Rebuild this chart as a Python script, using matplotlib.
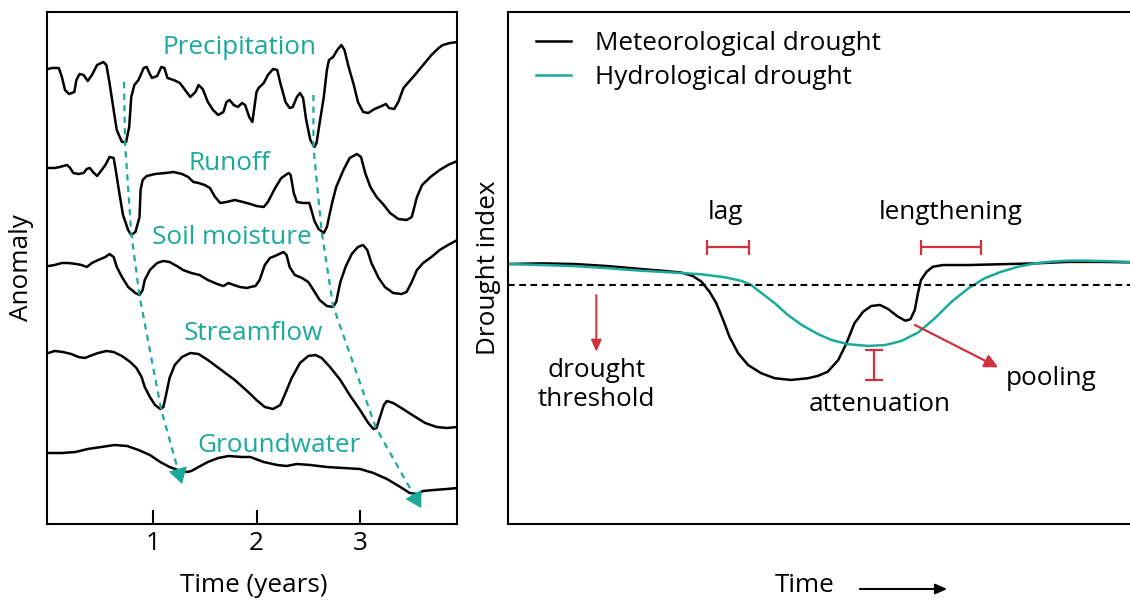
import matplotlib
matplotlib.use("Agg")
import matplotlib.pyplot as plt

plt.rcParams['font.family'] = ['Open Sans', 'DejaVu Sans']

TEAL = '#1ba99c'
RED = '#d0313f'
FS = 18.8

# ---------------- left panel: anomalies through the water cycle ----------------
# (time in years, anomaly in arbitrary stacked units)
precipitation = [
    (-0.01, 45.5), (0.02, 45.6), (0.09, 45.6), (0.12, 44.7), (0.15, 43.4), (0.19, 43.0),
    (0.24, 43.2), (0.26, 44.4), (0.29, 45.0), (0.33, 44.9), (0.37, 44.3), (0.41, 44.9),
    (0.46, 45.9), (0.52, 46.2), (0.55, 45.9), (0.58, 44.1), (0.62, 41.4), (0.65, 39.4),
    (0.70, 38.2), (0.74, 38.2), (0.77, 39.7), (0.79, 42.7), (0.82, 43.9), (0.86, 44.4),
    (0.91, 45.6), (0.94, 45.7), (0.96, 45.2), (0.99, 44.6), (1.04, 44.8), (1.08, 45.7),
    (1.11, 45.6), (1.14, 44.6), (1.20, 44.4), (1.26, 44.1), (1.31, 43.4), (1.36, 42.7),
    (1.41, 43.2), (1.44, 43.9), (1.48, 43.5), (1.53, 42.2), (1.58, 41.4), (1.63, 40.9),
    (1.68, 41.2), (1.71, 42.2), (1.74, 42.4), (1.78, 41.9), (1.82, 41.7), (1.86, 42.1),
    (1.89, 41.9), (1.93, 40.7), (1.96, 40.2), (2.00, 43.2), (2.02, 43.6), (2.07, 44.1),
    (2.11, 44.9), (2.16, 45.5), (2.20, 45.4), (2.23, 44.1), (2.28, 42.2), (2.32, 41.6),
    (2.35, 41.7), (2.39, 42.7), (2.42, 43.1), (2.45, 42.6), (2.48, 40.4), (2.52, 38.4),
    (2.56, 37.7), (2.58, 38.1), (2.61, 40.1), (2.65, 42.7), (2.68, 45.4), (2.70, 46.4),
    (2.74, 46.7), (2.78, 47.4), (2.82, 47.9), (2.85, 47.4), (2.89, 45.7), (2.94, 43.9),
    (2.98, 42.2), (3.03, 41.2), (3.08, 41.1), (3.14, 41.5), (3.21, 41.8), (3.25, 42.0),
    (3.28, 41.6), (3.33, 41.5), (3.37, 42.2), (3.42, 43.6), (3.47, 44.2), (3.53, 44.9),
    (3.61, 45.9), (3.69, 46.9), (3.76, 47.6), (3.80, 47.9), (3.87, 48.1), (3.94, 48.2),
]

runoff = [
    (-0.01, 35.6), (0.05, 35.6), (0.10, 35.7), (0.17, 35.9), (0.20, 35.6), (0.23, 35.1),
    (0.28, 35.0), (0.33, 35.1), (0.36, 35.5), (0.39, 35.6), (0.42, 35.2), (0.46, 34.8),
    (0.49, 35.2), (0.54, 35.9), (0.58, 36.7), (0.62, 36.6), (0.64, 35.4), (0.67, 33.4),
    (0.71, 30.9), (0.76, 29.4), (0.79, 28.9), (0.83, 29.2), (0.87, 30.7), (0.88, 33.4),
    (0.90, 34.4), (0.94, 34.8), (1.02, 35.0), (1.12, 35.1), (1.20, 35.2), (1.28, 35.0),
    (1.34, 34.7), (1.39, 34.2), (1.44, 34.1), (1.50, 33.9), (1.55, 33.6), (1.60, 32.7),
    (1.65, 32.1), (1.71, 32.2), (1.79, 32.4), (1.87, 32.2), (1.94, 32.0), (2.00, 31.8),
    (2.07, 31.7), (2.11, 32.2), (2.18, 33.6), (2.24, 34.6), (2.31, 35.1), (2.33, 34.9),
    (2.36, 33.1), (2.39, 32.2), (2.45, 32.1), (2.51, 32.1), (2.53, 31.4), (2.56, 30.3),
    (2.60, 29.5), (2.65, 29.1), (2.68, 29.7), (2.73, 32.1), (2.77, 33.7), (2.84, 35.4),
    (2.90, 36.6), (2.97, 37.0), (3.01, 36.7), (3.05, 35.1), (3.10, 33.7), (3.16, 32.7),
    (3.23, 31.9), (3.29, 31.1), (3.37, 30.5), (3.45, 30.4), (3.50, 30.7), (3.55, 32.7),
    (3.60, 33.9), (3.68, 34.7), (3.77, 35.4), (3.85, 35.9), (3.94, 36.3),
]

soil_moisture = [
    (-0.01, 25.8), (0.05, 25.9), (0.12, 26.1), (0.18, 26.1), (0.26, 26.0), (0.31, 25.9),
    (0.36, 25.7), (0.41, 26.1), (0.47, 26.4), (0.54, 26.7), (0.58, 27.0), (0.62, 26.7),
    (0.65, 25.7), (0.70, 24.7), (0.76, 23.7), (0.83, 23.1), (0.87, 22.9), (0.90, 23.4),
    (0.92, 24.4), (0.97, 25.4), (1.04, 26.1), (1.10, 26.3), (1.16, 26.2), (1.23, 25.8),
    (1.29, 25.4), (1.37, 25.1), (1.45, 24.9), (1.53, 24.4), (1.62, 24.0), (1.68, 23.8),
    (1.73, 24.1), (1.78, 23.9), (1.84, 23.7), (1.91, 23.6), (1.94, 23.7), (1.99, 23.8),
    (2.03, 24.4), (2.08, 25.9), (2.13, 26.6), (2.20, 26.9), (2.26, 27.2), (2.29, 26.9),
    (2.32, 25.7), (2.37, 24.9), (2.44, 24.6), (2.50, 24.2), (2.55, 23.4), (2.61, 22.4),
    (2.68, 21.8), (2.74, 21.7), (2.77, 22.2), (2.81, 24.2), (2.86, 25.7), (2.92, 27.0),
    (2.98, 27.7), (3.03, 27.9), (3.07, 27.4), (3.11, 26.1), (3.18, 24.6), (3.24, 23.7),
    (3.32, 23.1), (3.40, 23.0), (3.45, 23.2), (3.50, 24.2), (3.55, 25.4), (3.61, 26.1),
    (3.69, 26.7), (3.77, 27.4), (3.85, 27.9), (3.94, 28.4),
]

streamflow = [
    (-0.01, 17.1), (0.05, 17.3), (0.13, 17.2), (0.21, 17.0), (0.28, 16.7), (0.34, 16.6),
    (0.39, 16.8), (0.47, 17.1), (0.55, 17.3), (0.62, 17.2), (0.70, 16.8), (0.78, 16.2),
    (0.84, 15.6), (0.89, 14.7), (0.92, 13.7), (0.97, 12.7), (1.02, 11.9), (1.07, 11.5),
    (1.10, 11.7), (1.13, 13.1), (1.16, 14.6), (1.21, 15.9), (1.28, 16.7), (1.36, 17.1),
    (1.44, 17.0), (1.53, 16.4), (1.66, 15.4), (1.79, 14.4), (1.92, 13.2), (2.00, 12.4),
    (2.08, 11.7), (2.16, 11.5), (2.23, 11.9), (2.28, 13.1), (2.34, 14.6), (2.42, 16.1),
    (2.50, 16.8), (2.57, 16.9), (2.63, 16.6), (2.71, 15.7), (2.81, 14.4), (2.90, 12.9),
    (3.00, 11.4), (3.08, 10.1), (3.13, 9.5), (3.16, 9.6), (3.19, 10.6), (3.23, 11.9),
    (3.26, 12.3), (3.32, 12.1), (3.40, 11.6), (3.52, 10.8), (3.63, 10.1), (3.74, 9.7),
    (3.84, 9.6), (3.94, 9.7),
]

groundwater = [
    (-0.01, 7.1), (0.12, 7.1), (0.25, 7.2), (0.37, 7.5), (0.50, 7.7), (0.63, 7.9),
    (0.75, 7.8), (0.86, 7.4), (0.97, 6.9), (1.07, 6.2), (1.16, 5.7), (1.24, 5.4),
    (1.33, 5.2), (1.37, 5.3), (1.44, 5.7), (1.53, 6.2), (1.63, 6.6), (1.73, 6.8),
    (1.86, 6.7), (1.94, 6.7), (2.07, 6.2), (2.20, 5.9), (2.29, 5.8), (2.39, 6.0),
    (2.52, 5.9), (2.68, 5.7), (2.84, 5.6), (3.00, 5.5), (3.13, 5.1), (3.26, 4.5),
    (3.39, 3.7), (3.48, 3.1), (3.55, 3.0), (3.61, 3.3), (3.71, 3.4), (3.84, 3.5),
    (3.94, 3.6),
]

series_left = [precipitation, runoff, soil_moisture, streamflow, groundwater]
series_names = ['Precipitation', 'Runoff', 'Soil moisture', 'Streamflow', 'Groundwater']
name_positions = [(1.84, 47.6), (1.74, 36.1), (1.76, 28.6), (1.97, 19.1), (2.22, 7.9)]

# propagation paths of the two dry spells through the stores
propagation_1 = [(0.72, 44.2), (0.73, 38.1), (0.79, 29.1), (0.87, 22.8), (1.08, 11.4), (1.28, 4.0)]
propagation_2 = [(2.55, 42.9), (2.55, 37.7), (2.63, 29.2), (2.74, 21.8), (3.15, 9.7), (3.59, 1.6)]

year_ticks = [1, 2, 3]

# ---------------- right panel: drought index ----------------
meteorological = [
    (0.00, 0.00), (0.54, 0.03), (1.07, 0.00), (1.61, -0.10), (2.14, -0.24), (2.52, -0.33),
    (2.79, -0.41), (2.97, -0.57), (3.11, -0.84), (3.24, -1.32), (3.35, -1.87), (3.46, -2.67),
    (3.56, -3.46), (3.70, -4.25), (3.86, -4.81), (4.07, -5.20), (4.29, -5.44), (4.55, -5.52),
    (4.82, -5.44), (4.98, -5.33), (5.14, -5.13), (5.31, -4.57), (5.44, -3.78), (5.57, -2.82),
    (5.71, -2.27), (5.84, -2.00), (5.98, -1.95), (6.11, -2.14), (6.27, -2.51), (6.39, -2.70),
    (6.47, -2.63), (6.54, -2.19), (6.59, -1.40), (6.64, -0.76), (6.73, -0.37), (6.83, -0.13),
    (6.99, -0.05), (7.40, -0.05), (7.93, -0.01), (8.47, 0.03), (9.00, 0.10), (9.54, 0.10),
    (10.0, 0.08),
]

hydrological = [
    (0.00, 0.00), (0.54, -0.05), (1.07, -0.10), (1.61, -0.20), (2.14, -0.32), (2.68, -0.41),
    (3.11, -0.49), (3.48, -0.63), (3.75, -0.80), (3.91, -1.00), (4.07, -1.37), (4.29, -1.87),
    (4.50, -2.43), (4.72, -2.90), (4.98, -3.33), (5.20, -3.62), (5.47, -3.82), (5.79, -3.90),
    (6.06, -3.86), (6.32, -3.67), (6.59, -3.27), (6.86, -2.59), (7.13, -1.80), (7.40, -1.16),
    (7.66, -0.68), (7.93, -0.37), (8.20, -0.13), (8.47, 0.03), (8.73, 0.11), (9.00, 0.16),
    (9.27, 0.16), (9.59, 0.14), (10.0, 0.10),
]

threshold = -1.0
lag_span = (3.20, 3.87, 0.80)
lengthening_span = (6.64, 7.61, 0.80)
attenuation_span = (5.88, -5.52, -4.10)
pooling_arrow = ((6.54, -2.90), (7.88, -4.92))
threshold_arrow = ((1.42, -1.48), (1.42, -4.18))

# ---------------- figure ----------------
fig = plt.figure(figsize=(11.3, 6.01), dpi=100)
W, H = 1130, 601


def frac_box(x0, y0, x1, y1):
    return [x0 / W, 1 - y1 / H, (x1 - x0) / W, (y1 - y0) / H]


ax1 = fig.add_axes(frac_box(47, 12, 457, 524))
ax2 = fig.add_axes(frac_box(508, 12, 1130, 524))

for ax in (ax1, ax2):
    for sp in ax.spines.values():
        sp.set_linewidth(1.5)
        sp.set_color('black')

# left panel curves
for data in series_left:
    t, v = zip(*data)
    ax1.plot(t, v, color='black', lw=1.8, solid_joinstyle='round', solid_capstyle='round')

for name, (x, y) in zip(series_names, name_positions):
    ax1.text(x, y, name, color=TEAL, fontsize=FS, ha='center', va='center')

for path in (propagation_1, propagation_2):
    t, v = zip(*path)
    (x_prev, y_prev), (x_tip, y_tip) = path[-2], path[-1]
    frac = 0.82
    xb = x_prev + frac * (x_tip - x_prev)
    yb = y_prev + frac * (y_tip - y_prev)
    ax1.plot(list(t[:-1]) + [xb], list(v[:-1]) + [yb], color=TEAL, lw=1.6,
             ls=(0, (2.8, 2.4)))
    ax1.annotate('', xy=(x_tip, y_tip), xytext=(xb, yb),
                 arrowprops=dict(arrowstyle='-|>,head_length=0.45,head_width=0.27',
                                 color=TEAL, lw=0, mutation_scale=25,
                                 shrinkA=0, shrinkB=0))

ax1.set_xlim(-0.024, 3.937)
ax1.set_ylim(0, 51.2)
ax1.set_xticks(year_ticks)
ax1.set_xticklabels([str(v) for v in year_ticks])
ax1.set_yticks([])
ax1.tick_params(axis='x', direction='in', length=10, width=1.5, pad=5, labelsize=FS)

# right panel curves
t, v = zip(*meteorological)
met_line, = ax2.plot(t, v, color='black', lw=1.8, label='Meteorological drought')
t, v = zip(*hydrological)
hyd_line, = ax2.plot(t, v, color=TEAL, lw=1.8, label='Hydrological drought')
ax2.axhline(threshold, color='black', lw=1.5, ls=(0, (3.2, 2.2)))

ax2.set_xlim(0, 10)
ax2.set_ylim(-12.38, 12.0)
ax2.set_xticks([])
ax2.set_yticks([])
ax2.spines['right'].set_visible(False)

ax2.legend(handles=[met_line, hyd_line], loc='upper left', bbox_to_anchor=(0.045, 0.962),
           frameon=False, fontsize=FS, handlelength=1.35, handletextpad=0.9,
           labelspacing=0.34, borderpad=0, borderaxespad=0)

# red markers of the drought characteristics
for x0, x1, y in (lag_span, lengthening_span):
    ax2.errorbar((x0 + x1) / 2, y, xerr=(x1 - x0) / 2, color=RED, lw=1.6,
                 capsize=5.4, capthick=1.6, fmt='none')
xa, ya0, ya1 = attenuation_span
ax2.errorbar(xa, (ya0 + ya1) / 2, yerr=(ya1 - ya0) / 2, color=RED, lw=1.6,
             capsize=6.5, capthick=1.6, fmt='none')

(ps, pe) = pooling_arrow
ax2.annotate('', xy=pe, xytext=ps,
             arrowprops=dict(arrowstyle='-|>,head_length=0.5,head_width=0.25', color=RED,
                             lw=1.6, mutation_scale=16, shrinkA=0, shrinkB=0))
(ts, te) = threshold_arrow
ax2.annotate('', xy=te, xytext=ts,
             arrowprops=dict(arrowstyle='-|>,head_length=0.5,head_width=0.22', color=RED,
                             lw=1.4, mutation_scale=14, shrinkA=0, shrinkB=0))

ax2.text(3.50, 2.43, 'lag', fontsize=FS, ha='center', va='center')
ax2.text(7.12, 2.43, 'lengthening', fontsize=FS, ha='center', va='center')
ax2.text(1.42, -5.75, 'drought\nthreshold', fontsize=FS, ha='center', va='center',
         linespacing=1.2)
ax2.text(5.98, -6.71, 'attenuation', fontsize=FS, ha='center', va='center')
ax2.text(8.73, -5.43, 'pooling', fontsize=FS, ha='center', va='center')

# axis titles
fig.text(22 / W, 1 - 268 / H, 'Anomaly', rotation=90, fontsize=FS, ha='center', va='center')
fig.text(489 / W, 1 - 268 / H, 'Drought index', rotation=90, fontsize=FS, ha='center', va='center')
fig.text(254 / W, 1 - 586 / H, 'Time (years)', fontsize=FS, ha='center', va='center')
fig.text(805 / W, 1 - 586 / H, 'Time', fontsize=FS, ha='center', va='center')
fig.add_artist(matplotlib.patches.FancyArrowPatch(
    (857 / W, 1 - 589 / H), (950 / W, 1 - 589 / H), transform=fig.transFigure,
    arrowstyle='-|>,head_length=0.5,head_width=0.22', mutation_scale=14,
    color='black', lw=1.5))

fig.savefig('out.png', dpi=100)
